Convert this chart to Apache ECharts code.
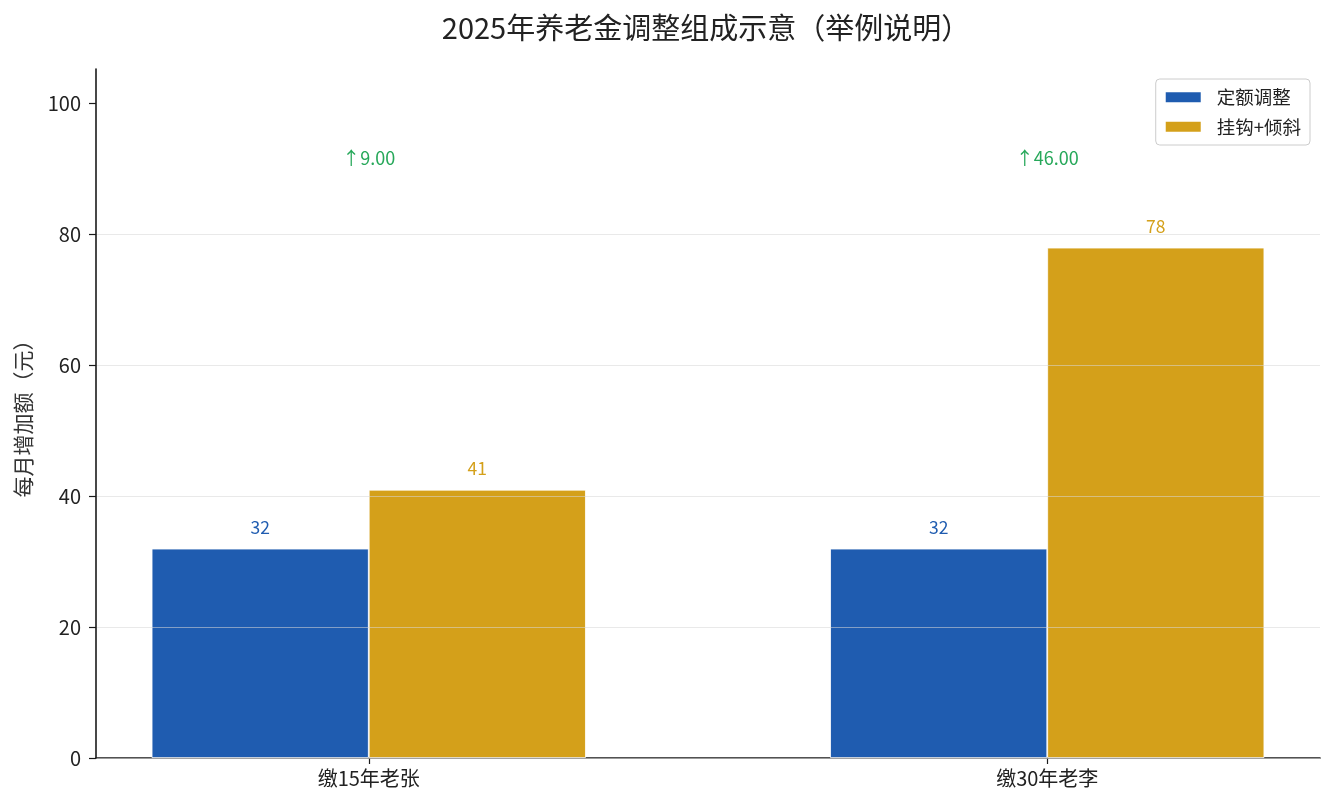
<!DOCTYPE html>
<html>
<head>
<meta charset="utf-8">
<script src="https://cdn.jsdelivr.net/npm/echarts@6/dist/echarts.min.js"></script>
<style>
  html, body { margin: 0; padding: 0; background: #fff; }
  #chart { width: 1335px; height: 810px; }
</style>
</head>
<body>
<div id="chart"></div>
<script>
// 数据
const categories = ['缴15年老张', '缴30年老李'];
const fixedPart = [32, 32];      // 定额调整
const tiltPart = [41, 78];       // 挂钩+倾斜
const yTicks = [0, 20, 40, 60, 80, 100];

const FONT = 'Noto Sans CJK SC';
const BLUE = '#1f5cb0';
const GOLD = '#d4a01a';
const GREEN = '#27a85a';

const yMax = Math.max(...tiltPart, ...fixedPart) * 1.35;
const xMin = -0.402, xMax = categories.length - 1 + 0.402;

// 每组差值注释
const diffData = categories.map((c, i) => [i, yMax * 0.87, tiltPart[i] - fixedPart[i]]);

const chart = echarts.init(document.getElementById('chart'));

const plotW = 1335 - 96 - 15;
const barW = plotW / (xMax - xMin) * 0.32;

chart.setOption({
  animation: false,
  textStyle: { fontFamily: FONT },
  title: {
    text: '2025年养老金调整组成示意（举例说明）',
    left: 701, top: 8, textAlign: 'center',
    textStyle: { fontFamily: FONT, fontSize: 29, fontWeight: 'normal', color: '#222' }
  },
  legend: {
    orient: 'vertical',
    right: 25, top: 79,
    padding: [9, 9, 9, 8],
    itemGap: 11,
    itemWidth: 37, itemHeight: 12,
    borderColor: '#cccccc', borderWidth: 1, borderRadius: 4,
    backgroundColor: '#fff',
    textStyle: { fontFamily: FONT, fontSize: 18.5, color: '#222', padding: [0, 0, 0, 10] },
    data: [
      { name: '定额调整', icon: 'rect' },
      { name: '挂钩+倾斜', icon: 'rect' }
    ]
  },
  grid: { left: 96, right: 15, top: 69, bottom: 52, containLabel: false, outerBoundsMode: 'none' },
  xAxis: {
    type: 'value',
    min: xMin, max: xMax,
    splitLine: { show: false },
    axisLine: { show: true, onZero: false, lineStyle: { color: '#1a1a1a', width: 1.6 } },
    axisTick: { show: true, customValues: categories.map((c, i) => i), length: 6, lineStyle: { color: '#1a1a1a', width: 1.2 } },
    axisLabel: {
      customValues: categories.map((c, i) => i),
      formatter: v => categories[Math.round(v)],
      fontFamily: FONT, fontSize: 20, color: '#222', margin: 10
    }
  },
  yAxis: {
    type: 'value',
    min: 0, max: yMax, interval: 20,
    z: 3,
    name: '每月增加额（元）',
    nameLocation: 'middle',
    nameGap: 62,
    nameTextStyle: { fontFamily: FONT, fontSize: 21, color: '#333' },
    axisLine: { show: true, onZero: false, lineStyle: { color: '#1a1a1a', width: 1.6 } },
    axisTick: { show: true, customValues: yTicks, length: 7, lineStyle: { color: '#1a1a1a', width: 1.2 } },
    axisLabel: {
      customValues: yTicks,
      fontFamily: FONT, fontSize: 20, color: '#222', margin: 15
    },
    splitLine: { show: true, showMaxLine: false, lineStyle: { color: 'rgba(215,215,215,0.55)', width: 1 } }
  },
  series: [
    {
      name: '定额调整', type: 'bar',
      data: fixedPart.map((v, i) => [i, v]),
      barWidth: barW, barGap: '0%',
      itemStyle: { color: BLUE, borderColor: '#fff', borderWidth: 0.8 },
      label: { show: true, position: 'top', distance: 13, color: BLUE, fontFamily: FONT, fontSize: 17.5, formatter: p => p.value[1] }
    },
    {
      name: '挂钩+倾斜', type: 'bar',
      data: tiltPart.map((v, i) => [i, v]),
      barWidth: barW, barGap: '0%',
      itemStyle: { color: GOLD, borderColor: '#fff', borderWidth: 0.8 },
      label: { show: true, position: 'top', distance: 13, color: GOLD, fontFamily: FONT, fontSize: 17.5, formatter: p => p.value[1] }
    },
    {
      type: 'scatter',
      data: diffData,
      symbolSize: 0,
      itemStyle: { color: GREEN, opacity: 1 },
      silent: true,
      label: {
        show: true, position: 'inside',
        color: GREEN, fontFamily: FONT, fontSize: 18,
        formatter: p => '↑' + p.value[2].toFixed(2)
      }
    }
  ]
});
</script>
</body>
</html>
